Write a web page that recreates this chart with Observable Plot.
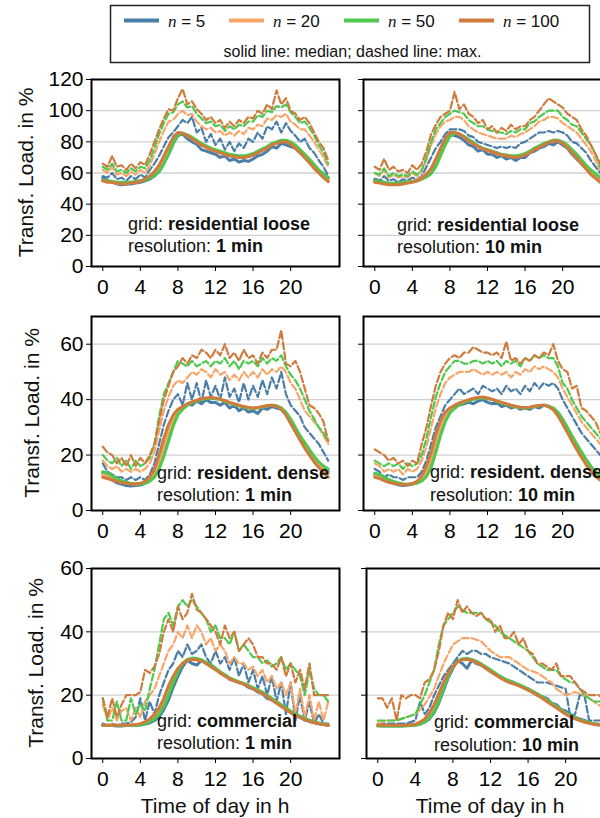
<!DOCTYPE html>
<html><head><meta charset="utf-8">
<script src="https://cdn.jsdelivr.net/npm/d3@7"></script>
<script src="https://cdn.jsdelivr.net/npm/@observablehq/plot@0.6"></script>
<style>
body{margin:0;background:#fff;}
#root{position:relative;width:600px;height:818px;overflow:hidden;font-family:"Liberation Sans",Arial,sans-serif;background:#fff;}
.abs{position:absolute;}
.abs svg{overflow:visible;max-width:none !important;}
</style></head><body><div id="root"></div>
<script>
// ---------- DATA ----------
const hours = [0,0.5,1,1.5,2,2.5,3,3.5,4,4.5,5,5.5,6,6.5,7,7.5,8,8.5,9,9.5,10,10.5,11,11.5,12,12.5,13,13.5,14,14.5,15,15.5,16,16.5,17,17.5,18,18.5,19,19.5,20,20.5,21,21.5,22,22.5,23,23.5,24];
const nValues = [5, 20, 50, 100];
const nColors = ["#4a7ea8", "#f8a56a", "#4ec94e", "#cf7b3c"];
const xTicks = [0, 4, 8, 12, 16, 20];
const yTicksLoose = [0, 20, 40, 60, 80, 100, 120];
const yTicksDense = [0, 20, 40, 60];
const yTicksComm = [0, 20, 40, 60];
const gridNames = ["residential loose", "resident. dense", "commercial"];
const resolutions = ["1 min", "10 min"];

// residential loose, 1 min
const A_med5   = [57,55,54,53,52.5,53,53,53.5,54,55,56,58,61,66,72,79,84,85,82,80,78.5,75,74,73,72,70,71,68,69,67,68,67.5,69,71,72,74,77,76,79,78,77,76,73,70,67,64,61,59,57];
const A_med20  = [55,54.5,54,53.5,53.5,53.5,54,54,55,56,57.5,60,63.5,69,75,81,85.5,85.5,84,82,80,78,76.5,75,74,73,72,71,70.5,70,70,70.5,71.5,73,75,76.5,78.5,79.5,80.5,80.5,79,77,74,71,67.5,64,61,58,55.5];
const A_med50  = [55.5,55,54.5,54,54,54,54,54.5,55,55.5,56.5,58.5,61,66,72,79,84.5,85.5,84.5,83,81,79,77.5,76,75,74,73,72,71.5,71,71,71.5,72.5,74,75.5,77,79,80,81,81,80,78,75,72,69,65.5,62,59.5,57];
const A_med100 = [55,54,54,53.5,53,53,53.5,54,54.5,56,58,61,65,71,77,83,86,85.5,84,82,80,78,76.5,75,74,73,72,71,70.5,70,70,70.5,71.5,73,74.5,76,78,79,80,80,78.5,76,73,70,66.5,63,60,57,54.5];
const A_max5   = [58,57,60,56,57,55,58,56,59,57,62,66,71,77,83,86,90,94,92,96,86,89,80,85,78,82,75,80,74,79,76,82,80,86,82,90,88,93,86,92,87,84,80,82,76,73,68,64,58];
const A_max20  = [62,60,64,59,60,58,61,59,62,60,65,72,80,87,93,94,98,100,97,98,93,90,88,89,86,87,84,86,84,87,85,89,88,91,90,95,94,97,96,98,93,91,88,88,84,80,75,70,64];
const A_max50  = [64,62,66,61,62,60,63,61,64,63,68,76,85,92,98,99,104,106,102,103,98,95,92,93,90,91,87,90,88,91,90,93,93,97,96,100,99,103,102,104,99,96,92,93,89,84,78,73,66];
const A_max100 = [66,64,71,64,65,62,66,63,67,65,72,80,88,95,101,100,108,114,104,106,101,98,94,96,92,94,89,93,90,94,92,96,95,100,98,104,101,113,104,108,100,98,94,96,92,86,80,76,68];

// residential loose, 10 min
const B_med5   = [56,55,54,53.5,53,53,53.5,54,54.5,55,56.5,58.5,61.5,67,74,80,85,84,83,81,78,77,74,75,72,72,70,71,69,70,68,70,70,73,74,76,77,79,78,80,78,76,72,69,66,63,60,58,56];
const B_med20  = [54.5,54,53.5,53,53,53,53.5,54,54.5,55.5,57,59.5,62.5,68,75,81,85.5,86,85,83,81,79,77,75.5,74.5,73.5,72.5,71.5,71,70.5,70.5,71,72,73.5,75.5,77,78.5,80,81,81,79.5,77,73.5,70,66.5,63,60,57.5,55];
const B_med50  = [55,54.5,54,53.5,53.5,53.5,54,54,54.5,55,56,57.5,59.5,64,71,78,83.5,85.5,85,83.5,81.5,79.5,77.5,76,75,74,73,72,71.5,71,71,71.5,72.5,74,76,77.5,79,80,81,81,80,78,75,72,68.5,65,62,59.5,57];
const B_med100 = [54,53.5,53,52.5,52.5,52.5,53,53.5,54,55,56.5,59,63,69,76,82,86,86,85,83,80.5,78.5,77,75.5,74.5,73.5,72.5,71.5,71,70.5,70,70.5,71.5,73,75,76.5,78,79.5,80.5,80.5,79,76.5,73,69.5,66,62.5,59,56.5,54];
const B_max5   = [56,55,58,55,56,54,56,55,57,56,58,64,70,76,80,85,88,88,88,87,84,83,80,79,78,77,76,77,76,77,76,79,80,82,84,86,86,87,86,87,86,84,80,79,76,73,68,64,60];
const B_max20  = [60,58,62,57,59,57,58,57,60,58,61,68,78,85,90,93,94,96,96,94,90,88,86,85,84,83,82,82,82,84,83,85,86,88,90,93,94,96,96,95,92,90,88,86,82,78,74,68,62];
const B_max50  = [60,59,63,58,60,58,59,58,61,59,62,70,80,88,92,96,98,100,99,98,94,92,90,90,88,87,86,86,85,87,86,88,88,92,93,96,98,100,100,100,96,94,91,90,86,82,78,72,64];
const B_max100 = [64,62,69,62,64,61,62,60,65,62,66,74,85,91,96,98,100,112,101,104,98,96,92,94,88,90,86,89,87,91,88,90,90,94,96,100,104,108,106,104,102,98,96,94,88,84,78,72,66];

// resident. dense, 1 min
const C_med5   = [13.5,12,11,10,9.5,9,8.8,9,9.2,9.8,11,13,17,22,28,32,35,37,38.5,38,39.5,38.5,40,39,39,38,39,37,38,36,37,35.5,36,35,37,36.5,37.5,37,36.5,34.5,31.5,28.5,25.5,23,21,19,17,15.5,14];
const C_med20  = [13,12.5,11.8,11,10.4,10,9.7,9.6,9.7,10.2,11.2,13.5,17.5,23,28.5,33,35.5,37,38.3,39,39.7,40.2,40.5,40.7,40.5,40.1,39.5,38.9,38.4,37.9,37.4,37.1,36.9,37.1,37.4,37.8,38,37.7,36.8,35,32,29,26,23.5,21,18.5,16.5,14.5,13.5];
const C_med50  = [14,13.5,12.5,11.5,10.8,10.2,9.8,9.6,9.6,9.8,10.5,12,15,19.5,25,30.5,34.5,36.5,38,39,39.5,40,40.3,40.5,40.3,40,39.4,38.8,38.3,37.8,37.3,37,36.8,37,37.3,37.7,38,37.8,37,35.5,33,30,27,24.5,22,19.5,17.5,16,15];
const C_med100 = [12,11.5,11,10.5,10,9.8,9.6,9.6,9.8,10.5,12,15,20,26,31,34.5,36.5,37.5,38.5,39.2,39.8,40.3,40.6,40.8,40.6,40.2,39.6,39,38.5,38,37.5,37.2,37,37.2,37.5,37.8,38,37.6,36.5,34.5,31.5,28.5,25.5,22.5,20,17.5,15.5,13.5,12];
const C_max5   = [17,14,13,12,12,11,12,11,12,11,13,17,24,31,36,40,42,38,46,40,46,39,47,41,45,40,48,41,44,39,46,40,45,41,47,42,48,44,50,42,38,36,34,30,28,26,24,21,18];
const C_max20  = [18,16,15,16,14,15,14,15,14,15,17,21,29,36,41,45,47,46,48,50,49,51,50,48,51,49,50,47,49,47,50,48,50,48,51,49,51,50,52,50,46,44,40,36,34,32,30,27,24];
const C_max50  = [20,18,17,19,16,18,15,18,16,17,19,24,34,42,46,50,54,53,52,54,52,53,54,52,54,53,55,52,54,51,54,53,54,52,55,53,55,54,56,52,49,47,44,40,36,33,30,28,25];
const C_max100 = [23,21,20,17,19,16,20,16,19,17,20,24,32,40,45,50,52,55,53,56,55,58,57,55,58,56,60,55,57,54,58,55,56,53,57,55,58,58,65,53,52,54,50,44,38,37,35,32,25];

// resident. dense, 10 min
const D_med5   = [13,12,11,10.3,9.8,9.3,9,9.2,9.5,10,11.5,14,18,24,30,34,36.5,37.5,38,38.5,39,38.5,39.5,40,39,38.5,39,37.5,38,37,37.5,36.5,37,36.5,37.5,37,38,37.5,36.5,34.5,31.5,28.5,25.5,22.5,20,17.5,15.5,14,12.5];
const D_med20  = [12.5,12,11.3,10.6,10.1,9.7,9.5,9.5,9.7,10.2,11.5,14,18.5,24.5,30,34,36.2,37.5,38.5,39.2,39.8,40.3,40.6,40.8,40.5,40.1,39.5,38.9,38.4,37.9,37.5,37.2,37.1,37.3,37.6,37.9,38,37.6,36.6,34.8,32,29,26,23,20.2,17.5,15.2,13.2,11.8];
const D_med50  = [13.5,13,12,11.2,10.5,10,9.6,9.5,9.6,9.9,10.6,12.2,15.5,21,27,32,35.2,36.8,38.2,39,39.6,40.1,40.5,40.7,40.4,40,39.4,38.8,38.3,37.8,37.4,37.1,37,37.2,37.5,37.8,38,37.7,37,35.5,33,30,27,24,21.2,18.5,16,14,12.5];
const D_med100 = [12,11.5,10.8,10.2,9.8,9.5,9.3,9.4,9.7,10.5,12.5,16,21,27.5,32.5,35.5,37,38,38.8,39.4,40,40.5,40.8,41,40.6,40.1,39.5,39,38.5,38,37.6,37.3,37.2,37.3,37.6,37.9,38,37.5,36.3,34.2,31.3,28.2,25,22,19.2,16.5,14.2,12.3,11];
const D_max5   = [15,14,12,13,12,12,11,12,12,12,14,18,24,30,34,38,40,42,44,42,43,44,42,45,44,43,44,42,45,43,44,42,45,43,46,44,46,45,46,44,40,37,34,31,28,26,24,22,20];
const D_max20  = [17,16,14,15,14,15,13,15,14,15,18,23,30,37,42,46,48,49,50,50,50,51,50,49,50,49,50,49,50,48,50,49,51,50,52,51,52,51,50,48,44,41,38,35,32,30,28,26,24];
const D_max50  = [18,17,16,17,16,17,15,17,16,17,20,26,34,41,46,50,52,54,54,53,53,54,54,53,54,53,54,52,54,53,54,52,55,54,56,55,56,55,55,52,46,44,40,37,34,32,30,28,26];
const D_max100 = [22,21,20,18,19,17,18,16,18,17,24,30,38,45,50,53,55,56,55,57,57,59,58,57,57,56,57,55,61,54,55,53,55,54,56,55,57,56,60,54,51,50,44,45,37,36,34,32,28];

// commercial, 1 min
const E_med5   = [10.5,10.4,10.4,10.3,10.3,10.4,10.4,10.5,10.6,10.9,11.2,12,13,15.5,18.5,22.5,26,29,31,30,29.5,31,30,29.5,28.5,27,26.5,25,24.5,24,23.5,22.5,22,21,20.5,19,18.5,17.5,16.5,15.5,14.5,13.5,13,12.2,11.7,11.3,11,10.7,10.5];
const E_med20  = [10.5,10.5,10.5,10.5,10.5,10.5,10.5,10.6,10.8,11.3,12,13.2,15,18,21.5,25,28,30,31.1,31.5,31.4,31,30.2,29.2,28.2,27.2,26.2,25.3,24.6,24.1,23.6,22.9,22.2,21.5,20.7,19.7,18.7,17.7,16.7,15.7,14.7,13.8,13.2,12.5,12,11.5,11.1,10.8,10.5];
const E_med50  = [10.4,10.4,10.4,10.4,10.4,10.4,10.4,10.5,10.6,11,11.6,12.5,14,16.5,20,24,27.5,30,31.3,31.7,31.6,31.2,30.4,29.5,28.5,27.4,26.4,25.5,24.8,24.2,23.7,23.1,22.4,21.7,21,20,19,18,17,16,15,14.1,13.4,12.7,12.1,11.6,11.2,10.9,10.6];
const E_med100 = [10.5,10.5,10.5,10.5,10.5,10.5,10.6,10.7,11,11.6,12.5,14,16,19,23,26,28.5,30,31,31.3,31.2,30.8,30,29,28,27,26,25.2,24.5,24,23.5,22.8,22,21.3,20.5,19.5,18.5,17.5,16.5,15.5,14.5,13.6,13,12.3,11.8,11.3,11,10.7,10.5];
const E_max5   = [11,10.5,11,10.5,11,11,11.5,13,19,12,18,14,20,24,28,30,34,32,36,33,34,36,32,30,34,30,32,28,32,26,30,24,28,22,26,20,26,18,24,14,24,12,20,12,18,11,14,11,11];
const E_max20  = [17,12,16,12,15,16,12,16,13,18,20,22,26,30,34,36,40,38,42,38,42,40,36,38,34,36,34,30,32,30,30,28,29,26,28,24,26,22,24,20,24,14,22,13,20,12,18,12,18];
const E_max50  = [19,12,12,18,12,12,19,14,17,15,22,28,36,44,46,42,48,50,48,50,48,46,44,40,42,38,38,36,40,34,36,34,32,32,30,31,29,30,32,28,30,28,26,20,28,22,20,20,18];
const E_max100 = [19,13,19,13,17,20,20,20,21,28,27,29,33,40,44,40,48,44,46,52,47,46,44,42,40,36,42,38,40,34,36,38,36,32,32,30,30,28,32,26,30,24,28,22,30,20,20,20,20];

// commercial, 10 min
const F_med5   = [10.4,10.3,10.3,10.3,10.3,10.3,10.4,10.5,10.6,10.9,11.5,12.5,14.5,17.5,21.5,25.5,28.5,31,30,28.5,31,30,29.5,28.5,27.5,26.5,26,25,24.5,24,23,22.5,22,21,20,19.5,19,17.5,17,15.5,15,14,13,12.5,12,11.5,11,10.8,10.6];
const F_med20  = [10.4,10.4,10.4,10.4,10.4,10.4,10.4,10.5,10.7,11.2,12,13.8,16,19.5,23,26.5,29,30.6,31.3,31.4,31.1,30.5,29.7,28.7,27.7,26.7,25.7,24.9,24.2,23.7,23.2,22.5,21.8,21,20.2,19.2,18.2,17.2,16.2,15.2,14.2,13.4,12.7,12.1,11.6,11.2,10.9,10.6,10.5];
const F_med50  = [10.3,10.3,10.3,10.3,10.3,10.3,10.3,10.4,10.5,10.8,11.5,12.8,14.8,18,22,26,29,30.7,31.5,31.6,31.3,30.7,29.9,29,28,27,26,25.2,24.5,23.9,23.4,22.7,22,21.2,20.4,19.5,18.5,17.5,16.5,15.4,14.4,13.6,12.9,12.3,11.8,11.4,11,10.7,10.5];
const F_med100 = [10.5,10.5,10.5,10.5,10.5,10.5,10.5,10.6,10.8,11.5,12.5,14.5,17,20.5,24,27,29,30.5,31.2,31.3,31,30.3,29.5,28.5,27.5,26.5,25.5,24.7,24,23.5,23,22.3,21.6,20.8,20,19,18,17,16,15,14,13.2,12.5,12,11.5,11.1,10.8,10.6,10.5];
const F_max5   = [11,11,11,11,11,11,11,11.5,12,18,14,16,20,23,26,28,30,32,34,33,34,34,33,33,32,31.5,31,30.5,30,29,28,27,26,25,24,24,24,23.5,23,22.5,22,13,14,20,20,12,12,12,12];
const F_max20  = [11,11.5,12,12,12,12.5,13,13.5,14,15.5,17,19.5,22,26,30,33,36,37,38,38,38,37.5,37,35.5,34,33,32,32,32,31,30,29,28,27.5,27,26,25,24,22,21,20,20.5,21,20.5,20,19,18,17,16];
const F_max50  = [12,12,12,12,12,12.5,13,13.5,14,17,20,24,28,36,42,44,46,48,47,46,46,46,46,44,43,42,40,39,38,37,36,35,34,32,30,29,28,28,28,26,25,24,24,22,20,19,18,18,18];
const F_max100 = [19,19,16,19,12,20,19,20,20,19,24,25,28,34,42,46,44,50,46,48,46,45,46,44,44,40,42,38,38,40,36,38,34,33,30,30,29,28,30,26,26,26,24,22,21,20,20,20,19];

// ---------- LAYOUT ----------
const FONT = '"Liberation Sans", Arial, sans-serif';
const panels = [
  {g:0, r:0, ymax:120, ticks:yTicksLoose, med:[A_med5,A_med20,A_med50,A_med100], max:[A_max5,A_max20,A_max50,A_max100], left:91,  top:79,  w:248, h:187, col:0, tx:37, ty1:36, ty2:14},
  {g:0, r:1, ymax:120, ticks:yTicksLoose, med:[B_med5,B_med20,B_med50,B_med100], max:[B_max5,B_max20,B_max50,B_max100], left:363, top:79,  w:248, h:187, col:1, tx:34, ty1:35, ty2:13},
  {g:1, r:0, ymax:70,  ticks:yTicksDense, med:[C_med5,C_med20,C_med50,C_med100], max:[C_max5,C_max20,C_max50,C_max100], left:91,  top:316, w:248, h:194, col:0, tx:66, ty1:31, ty2:9},
  {g:1, r:1, ymax:70,  ticks:yTicksDense, med:[D_med5,D_med20,D_med50,D_med100], max:[D_max5,D_max20,D_max50,D_max100], left:363, top:316, w:248, h:194, col:1, tx:67, ty1:32, ty2:9},
  {g:2, r:0, ymax:60,  ticks:yTicksComm,  med:[E_med5,E_med20,E_med50,E_med100], max:[E_max5,E_max20,E_max50,E_max100], left:91,  top:568, w:248, h:190, col:0, tx:66, ty1:31, ty2:9, bottom:true},
  {g:2, r:1, ymax:60,  ticks:yTicksComm,  med:[F_med5,F_med20,F_med50,F_med100], max:[F_max5,F_max20,F_max50,F_max100], left:366, top:568, w:248, h:190, col:1, tx:68, ty1:30, ty2:7.5, bottom:true}
];
const yLabelX = [33, 39, 43];

const root = document.getElementById("root");
let bad = [];

panels.forEach((p, k) => {
  const mL = p.col === 0 ? p.left : 20;
  const mT = 8, mR = 8, mB = p.bottom ? (818 - p.top - p.h) : 45;
  const W = mL + p.w + mR, H = mT + p.h + mB;
  const marks = [
    Plot.gridY(p.ticks.slice(1), {stroke: "#d0d0d0", strokeOpacity: 1, strokeWidth: 1.3})
  ];
  nValues.forEach((n, i) => {
    [p.med[i], p.max[i]].forEach(a => { if (a.length !== hours.length) bad.push(k + ":" + n); });
    marks.push(Plot.line(p.med[i], {x: (d, j) => hours[j], y: d => d, stroke: nColors[i], strokeWidth: 3}));
    marks.push(Plot.line(p.max[i], {x: (d, j) => hours[j], y: d => d, stroke: nColors[i], strokeWidth: 2.2, strokeDasharray: "7,3"}));
  });
  marks.push(Plot.axisX({ticks: xTicks, tickSize: 5, tickPadding: 8, label: null, fontSize: 21}));
  marks.push(Plot.axisY({ticks: p.ticks, tickSize: 5, tickPadding: 3, label: null, fontSize: 21,
    tickFormat: p.col === 0 ? (d => String(d)) : (() => "")}));
  marks.push(Plot.frame({stroke: "black", strokeWidth: 2}));

  const svg = Plot.plot({
    width: W, height: H,
    marginLeft: mL, marginRight: mR, marginTop: mT, marginBottom: mB,
    x: {domain: [-1.2, 25.2]},
    y: {domain: [0, p.ymax]},
    style: {fontFamily: FONT, fontSize: "21px", color: "black", background: "transparent", overflow: "visible", maxWidth: "none"},
    marks
  });
  svg.setAttribute("width", W);
  svg.setAttribute("height", H);
  svg.style.width = W + "px";
  svg.style.height = H + "px";
  const div = document.createElement("div");
  div.className = "abs";
  div.style.left = (p.left - mL) + "px";
  div.style.top = (p.top - mT) + "px";
  div.style.width = W + "px";
  div.style.height = H + "px";
  div.appendChild(svg);
  root.appendChild(div);

  const s = d3.select(svg);
  const bottomY = mT + p.h;
  const t1 = s.append("text").attr("x", mL + p.tx).attr("y", bottomY - p.ty1).attr("text-anchor", "start")
    .attr("font-family", FONT).attr("font-size", 18).attr("fill", "#111");
  t1.append("tspan").text("grid: ");
  t1.append("tspan").attr("font-weight", "bold").text(gridNames[p.g]);
  const t2 = s.append("text").attr("x", mL + p.tx).attr("y", bottomY - p.ty2).attr("text-anchor", "start")
    .attr("font-family", FONT).attr("font-size", 18).attr("fill", "#111");
  t2.append("tspan").text("resolution: ");
  t2.append("tspan").attr("font-weight", "bold").text(resolutions[p.r]);

  if (p.col === 0) {
    const cy = mT + p.h / 2;
    const bx = yLabelX[p.g] - (p.left - mL);
    s.append("text").attr("transform", `translate(${bx},${cy}) rotate(-90)`)
      .attr("text-anchor", "middle").attr("font-family", FONT).attr("font-size", 21).attr("fill", "#111")
      .text("Transf. Load. in %");
  }
  if (p.bottom) {
    s.append("text").attr("x", mL + p.w / 2).attr("y", 813 - (p.top - mT))
      .attr("text-anchor", "middle").attr("font-family", FONT).attr("font-size", 21).attr("fill", "#111")
      .text("Time of day in h");
  }
});

// ---------- LEGEND ----------
const leg = d3.select(root).append("svg").attr("class", "abs").style("left", "0px").style("top", "0px")
  .attr("width", 600).attr("height", 70);
leg.append("rect").attr("x", 110.5).attr("y", 5.5).attr("width", 479).attr("height", 57)
  .attr("fill", "white").attr("stroke", "#222").attr("stroke-width", 1.5);
const swX = [124, 229, 344, 459];
nValues.forEach((n, i) => {
  leg.append("line").attr("x1", swX[i]).attr("x2", swX[i] + 35).attr("y1", 20.5).attr("y2", 20.5)
    .attr("stroke", nColors[i]).attr("stroke-width", 4);
  const t = leg.append("text").attr("x", swX[i] + 44).attr("y", 26.5)
    .attr("font-family", FONT).attr("font-size", 17).attr("fill", "#111");
  t.append("tspan").attr("font-family", '"Liberation Serif", "DejaVu Serif", serif').attr("font-style", "italic").text("n");
  t.append("tspan").text(" = " + n);
});
leg.append("text").attr("x", 352.5).attr("y", 56.5).attr("text-anchor", "middle")
  .attr("font-family", FONT).attr("font-size", 16).attr("fill", "#111")
  .text("solid line: median; dashed line: max.");

if (bad.length) {
  d3.select(root).append("div").attr("class", "abs").style("left", "10px").style("top", "780px")
    .style("color", "red").text("bad lengths: " + bad.join(","));
}
</script></body></html>
